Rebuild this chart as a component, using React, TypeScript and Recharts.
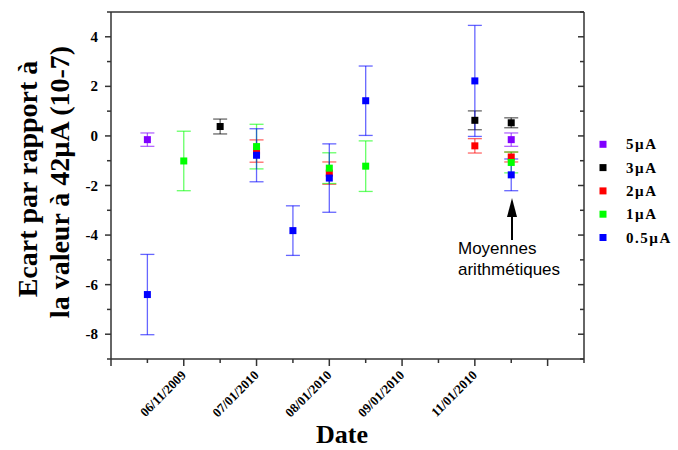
import React from "react";
import { ScatterChart, Scatter, XAxis, YAxis, ErrorBar, Legend } from "recharts";

// date slots on the x axis (index -> label)
const dateTicks = [0, 1, 2, 3, 4, 5, 6, 7, 8, 9, 10, 11, 12, 13];
const dateLabels: Record<number, string> = {
  2: "06/11/2009",
  4: "07/01/2010",
  6: "08/01/2010",
  8: "09/01/2010",
  10: "11/01/2010",
};
const yTicks = [-9, -8, -7, -6, -5, -4, -3, -2, -1, 0, 1, 2, 3, 4, 5];

// 5µA
const ua5X = [1, 11];
const ua5Y = [-0.15, -0.15];
const ua5Err = [0.27, 0.27];
// 3µA
const ua3X = [3, 10, 11];
const ua3Y = [0.38, 0.63, 0.53];
const ua3Err = [0.3, 0.38, 0.2];
// 2µA
const ua2X = [4, 6, 10, 11];
const ua2Y = [-0.61, -1.5, -0.4, -0.85];
const ua2Err = [0.45, 0.45, 0.29, 0.2];
// 1µA
const ua1X = [2, 4, 6, 7, 11];
const ua1Y = [-1.01, -0.43, -1.3, -1.22, -1.07];
const ua1Err = [1.2, 0.9, 0.62, 1.02, 0.42];
// 0.5µA
const ua05X = [1, 4, 5, 6, 7, 10, 11];
const ua05Y = [-6.4, -0.78, -3.82, -1.7, 1.42, 2.22, -1.57];
const ua05Err = [1.62, 1.07, 1.0, 1.38, 1.4, 2.24, 0.64];

const build = (xs: number[], ys: number[], es: number[]) =>
  xs.map((x, i) => ({ x, y: ys[i], err: es[i] }));

const series = [
  { name: "5µA", color: "#8000FF", data: build(ua5X, ua5Y, ua5Err) },
  { name: "3µA", color: "#000000", data: build(ua3X, ua3Y, ua3Err) },
  { name: "2µA", color: "#FF0000", data: build(ua2X, ua2Y, ua2Err) },
  { name: "1µA", color: "#00FF00", data: build(ua1X, ua1Y, ua1Err) },
  { name: "0.5µA", color: "#0000FF", data: build(ua05X, ua05Y, ua05Err) },
];

const AXIS = "#333";
const SERIF = "'Liberation Serif', 'Times New Roman', serif";
const SANS = "'Liberation Sans', Arial, sans-serif";

const BottomTick = (props: any) => {
  const { x, y, payload } = props;
  const v = payload.value;
  const major = v % 2 === 0;
  const label = dateLabels[v];
  return (
    <g>
      <line x1={x} x2={x} y1={y} y2={y + (major ? 7 : 4)} stroke={AXIS} strokeWidth={1.5} />
      {label && (
        <text
          x={x + 3}
          y={y + 17}
          textAnchor="end"
          transform={`rotate(-45 ${x + 3} ${y + 17})`}
          fontFamily={SERIF}
          fontWeight="bold"
          fontSize={13}
          fill="#000"
        >
          {label}
        </text>
      )}
    </g>
  );
};

const TopTick = (props: any) => {
  const { x, y, payload } = props;
  const major = payload.value % 2 === 0;
  return <line x1={x} x2={x} y1={y} y2={y + (major ? 6 : 4)} stroke={AXIS} strokeWidth={1.5} />;
};

const LeftTick = (props: any) => {
  const { x, y, payload } = props;
  const v = payload.value;
  const major = v % 2 === 0;
  return (
    <g>
      <line x1={x - (major ? 6 : 4)} x2={x} y1={y} y2={y} stroke={AXIS} strokeWidth={1.5} />
      {major && (
        <text
          x={x - 13}
          y={y}
          dy={5}
          textAnchor="end"
          fontFamily={SERIF}
          fontWeight="bold"
          fontSize={15}
          fill="#000"
        >
          {v}
        </text>
      )}
    </g>
  );
};

const RightTick = (props: any) => {
  const { x, y, payload } = props;
  const major = payload.value % 2 === 0;
  return <line x1={x - (major ? 6 : 4)} x2={x} y1={y} y2={y} stroke={AXIS} strokeWidth={1.5} />;
};

const renderLegend = () => (
  <svg width={82} height={120}>
    {series.map((s, i) => (
      <g key={`legend-${i}`}>
        <rect x={3.5} y={8.8 + i * 23.3} width={7} height={7} fill={s.color} />
        <text
          x={30}
          y={12.3 + i * 23.3}
          dy={5}
          fontFamily={SERIF}
          fontWeight="bold"
          fontSize={15}
          letterSpacing={1.5}
          fill="#000"
        >
          {s.name}
        </text>
      </g>
    ))}
  </svg>
);

const squareShape = (color: string) => (props: any) => (
  <rect x={props.cx - 3.5} y={props.cy - 3.5} width={7} height={7} fill={color} />
);

export default function App() {
  return (
    <div style={{ position: "absolute", left: 0, top: 0, width: 678, height: 450, background: "#fff" }}>
      <ScatterChart width={678} height={450} margin={{ top: 2, right: 84, bottom: 61, left: 81 }}>
        <XAxis
          dataKey="x"
          type="number"
          domain={[0, 13]}
          ticks={dateTicks}
          interval={0}
          height={30}
          tickSize={0}
          tickMargin={0}
          tickLine={false}
          tick={<BottomTick />}
          stroke={AXIS}
          strokeWidth={1.5}
          allowDataOverflow
        />
        <XAxis
          xAxisId="top"
          orientation="top"
          type="number"
          domain={[0, 13]}
          ticks={dateTicks}
          interval={0}
          height={10}
          tickSize={0}
          tickMargin={0}
          tickLine={false}
          tick={<TopTick />}
          stroke={AXIS}
          strokeWidth={1.5}
          allowDataOverflow
        />
        <YAxis
          dataKey="y"
          type="number"
          domain={[-9, 5]}
          ticks={yTicks}
          interval={0}
          width={30}
          tickSize={0}
          tickMargin={0}
          tickLine={false}
          tick={<LeftTick />}
          stroke={AXIS}
          strokeWidth={1.5}
          allowDataOverflow
        />
        <YAxis
          yAxisId="right"
          orientation="right"
          type="number"
          domain={[-9, 5]}
          ticks={yTicks}
          interval={0}
          width={10}
          tickSize={0}
          tickMargin={0}
          tickLine={false}
          tick={<RightTick />}
          stroke={AXIS}
          strokeWidth={1.5}
          allowDataOverflow
        />
        <Legend
          content={renderLegend}
          layout="vertical"
          align="center"
          verticalAlign="middle"
          wrapperStyle={{ left: 596, top: 132, width: 82, height: 120 }}
        />
        {series.map((s) => (
          <Scatter
            key={s.name}
            name={s.name}
            data={s.data}
            fill={s.color}
            shape={squareShape(s.color)}
            isAnimationActive={false}
          >
            <ErrorBar
              dataKey="err"
              direction="y"
              width={7}
              stroke={s.color}
              strokeOpacity={0.6}
              strokeWidth={1.3}
              isAnimationActive={false}
            />
          </Scatter>
        ))}
      </ScatterChart>
      <svg
        width={678}
        height={450}
        style={{ position: "absolute", left: 0, top: 0, pointerEvents: "none" }}
      >
        <text
          transform="rotate(-90 37 179)"
          x={37}
          y={179}
          textAnchor="middle"
          fontFamily={SERIF}
          fontWeight="bold"
          fontSize={28}
          fill="#000"
        >
          Ecart par rapport à
        </text>
        <text
          transform="rotate(-90 69 182)"
          x={69}
          y={182}
          textAnchor="middle"
          fontFamily={SERIF}
          fontWeight="bold"
          fontSize={28}
          fill="#000"
        >
          la valeur à 42µA (10-7)
        </text>
        <text x={342} y={443} textAnchor="middle" fontFamily={SERIF} fontWeight="bold" fontSize={26} fill="#000">
          Date
        </text>
        <line x1={512} x2={512} y1={214} y2={240} stroke="#000" strokeWidth={2} />
        <polygon points="512,198 507,217 517,217" fill="#000" />
        <text x={458} y={254} fontFamily={SANS} fontSize={17} fill="#000">
          Moyennes
        </text>
        <text x={458} y={275} fontFamily={SANS} fontSize={17} fill="#000">
          arithmétiques
        </text>
      </svg>
    </div>
  );
}
